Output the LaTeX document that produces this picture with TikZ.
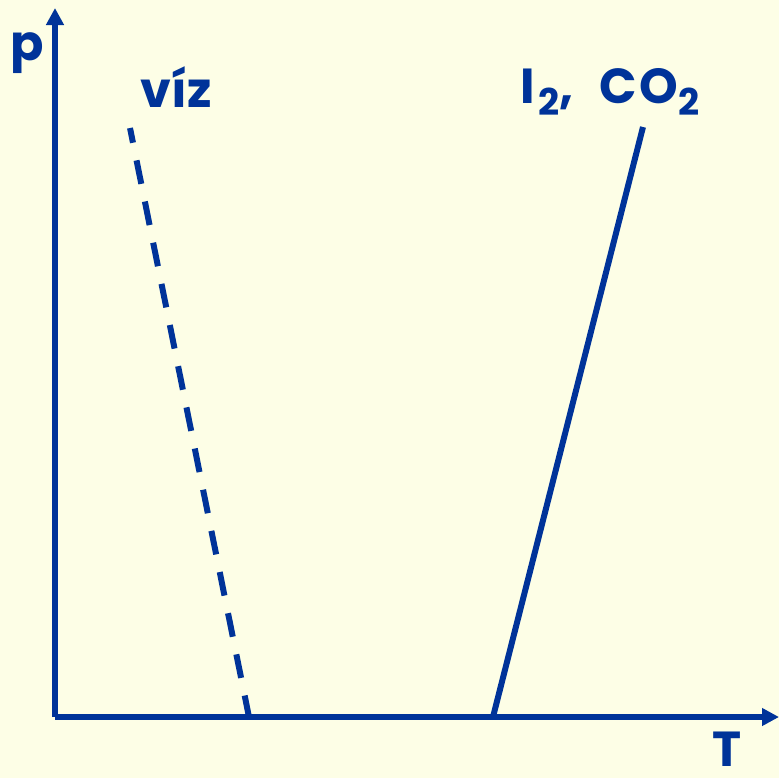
\documentclass[tikz,border=0pt]{standalone}
\usepackage{fontspec}
\setmainfont{Poppins}
\usetikzlibrary{arrows.meta,positioning}
\definecolor{axisblue}{RGB}{0,51,153}
\definecolor{paper}{RGB}{253,254,230}
\newcommand{\sub}[1]{\raisebox{-0.45ex}{\fontsize{10.5}{12}\selectfont #1}}

\begin{document}
\begin{tikzpicture}[>={Triangle[length=0.17cm,width=0.17cm]},
  line width=1.7pt, draw=axisblue,
  lbl/.style={text=axisblue,font=\fontsize{14}{16}\selectfont\bfseries,inner sep=0pt}]
\fill[paper] (0,0) rectangle (7.79,7.78);
\useasboundingbox (0,0) rectangle (7.79,7.78);
\coordinate (O) at (0.55,0.61);
\coordinate (ptop) at (0.55,7.70);
\coordinate (Tend) at (7.79,0.61);
\coordinate (wtop) at (1.30,6.50);
\coordinate (wbot) at (2.49,0.61);
\coordinate (stop) at (6.43,6.51);
\coordinate (sbot) at (4.93,0.61);
% axes
\draw[axisblue,->] (O) -- (ptop);
\draw[axisblue,->] (O) -- (Tend);
% melting curves
\draw[axisblue,dash pattern=on 0.24cm off 0.18cm,dash phase=0.09cm] (wtop) -- (wbot);
\draw[axisblue] (sbot) -- (stop);
\node[lbl,anchor=base] (p) at (0.27,7.18) {p};
\node[lbl,anchor=base] (T) at (7.27,0.12) {T};
\node[lbl,anchor=base] (viz) at (1.76,6.71) {víz};
\node[lbl,anchor=base west] (iodco) at (5.18,6.75) {I\kern0.03cm\sub{2},\hspace{0.26cm}C\kern0.02cm O\kern0.01cm\sub{2}};
\end{tikzpicture}
\end{document}
